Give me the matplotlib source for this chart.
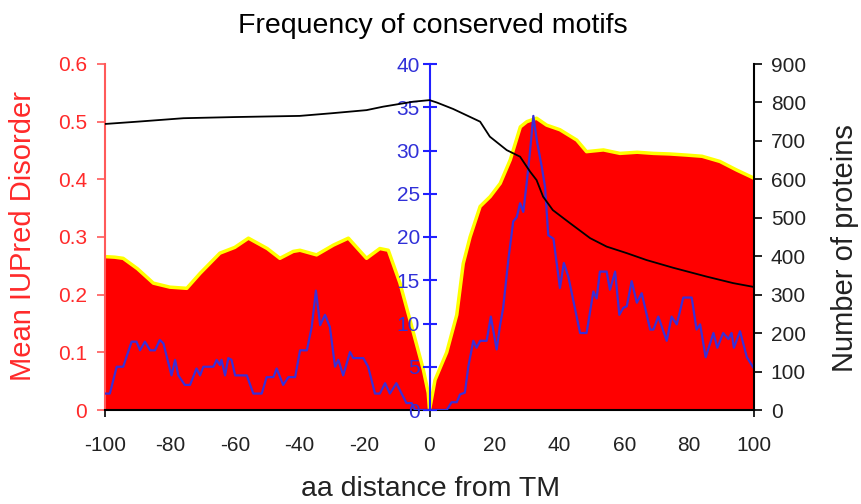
import matplotlib
matplotlib.use("Agg")
from matplotlib import pyplot as plt

plt.rcParams['font.family'] = ['Liberation Sans', 'DejaVu Sans']
plt.rcParams['axes.unicode_minus'] = False

# mean IUPred disorder (left axis)
dis_x = [-100, -97, -94.4, -90, -85.1, -80, -74.8, -70.7, -64.6, -60, -55.8, -50,
         -46.1, -42, -39.9, -34.8, -29.6, -25, -19.4, -15.3, -12.7, -9.1, -5, -1.9,
         -0.4, 0, 1.7, 5.3, 6.3, 8.4, 10.4, 12.5, 15.6, 18.7, 21.8, 24.9, 28, 30,
         33, 36.1, 40.2, 45.4, 48.4, 53.6, 58.7, 64, 69, 74, 79.3, 84, 89.5, 94.7, 100]
dis_y = [0.266, 0.265, 0.263, 0.245, 0.22, 0.213, 0.211, 0.237, 0.272, 0.282, 0.298, 0.28,
         0.263, 0.275, 0.277, 0.269, 0.286, 0.298, 0.263, 0.28, 0.277, 0.22, 0.135, 0.07,
         0.03, 0.0, 0.052, 0.1, 0.121, 0.165, 0.254, 0.30, 0.353, 0.37, 0.393, 0.434, 0.491, 0.50,
         0.506, 0.494, 0.486, 0.468, 0.448, 0.451, 0.445, 0.447, 0.445, 0.444, 0.442, 0.44, 0.431, 0.416, 0.402]

# frequency of conserved motifs (middle axis)
mot_x = [-100, -98.5, -96.4, -94.4, -91.8, -90.3, -89.2, -87.7, -86.1, -84.6, -83.1, -82,
         -79.5, -78.4, -77.4, -75.4, -73.8, -71.8, -70.7, -69.7, -66.6, -65.6, -64.6, -64.1,
         -63, -62, -61, -59.9, -56.3, -54.3, -51.7, -50.2, -48.1, -47.1, -45.1, -43.5, -41.4,
         -39.9, -37.8, -36.3, -35, -33.7, -32.2, -30.7, -29.1, -28.1, -26.6, -24.5, -23.5,
         -20.4, -18.9, -16.8, -15.3, -13.7, -12.2, -10.2, -8.6, -7.1, -5.5, -4.5, 0,
         5.3, 6.8, 8.4, 9.4, 10.9, 12, 13.5, 14.5, 15.6, 17.6, 18.9, 20.7, 21.7, 22.7,
         24.3, 25.8, 26.9, 27.9, 28.9, 30, 31, 32, 33.1, 34.6, 35.6, 36.6, 38.2, 40.2,
         41.4, 42.8, 46.4, 48.4, 50.5, 51.5, 52.5, 54.6, 55.6, 57.2, 58.5, 59.7, 60.8,
         62.3, 63.9, 65.4, 68, 69, 70.5, 73.1, 74.6, 76.2, 78.2, 80.8, 82.3, 83.4, 85.1,
         87.5, 88.7, 90.5, 92.1, 93.1, 93.8, 95.7, 97.8, 99.8, 100]
mot_y = [1.9, 1.9, 5, 5, 7.9, 7.9, 6.9, 7.9, 6.9, 6.9, 8.1, 7.7,
         4, 5.8, 4, 2.9, 2.9, 4.8, 4, 5, 5, 5.8, 5.2, 5.8,
         4, 6, 5.8, 4, 4, 1.9, 1.9, 3.8, 3.8, 4.8, 2.9, 3.8, 3.8,
         6.9, 6.9, 9.6, 13.8, 9.8, 11, 9.6, 5, 5.8, 4, 6.7, 6,
         6, 5, 1.9, 1.9, 3.1, 1.9, 3.1, 1.9, 0.8, 0.8, 0, 0,
         0, 0.9, 0.9, 1.8, 2, 5.1, 8, 7.2, 8, 8, 10.8, 7, 9.7, 11.8,
         17.4, 21.8, 22.3, 23.9, 22.9, 26.4, 30, 34, 31.1, 28.1, 25.8, 20.2, 19.8, 14.1,
         17, 15.4, 8.9, 8.9, 13.7, 12.9, 16, 16, 13.9, 16, 11, 11.8, 12,
         14.9, 12.4, 13.5, 9.3, 9.3, 10.8, 8, 10.8, 9.9, 13, 13, 9.3, 9.9, 6.1,
         8.9, 7.2, 8.9, 8.2, 8.9, 7.2, 9.1, 6.1, 4.9, 4.9]

# number of proteins (right axis)
num_x = [-100, -90, -75.8, -60, -40, -30, -19.4, -14.3, -5, 0, 2.2, 7.3, 15.6, 18.6,
         23.8, 27.9, 31, 33, 35, 38, 43.3, 49.5, 54.6, 60.8, 66.9, 75.1, 85.4, 93.6, 100]
num_y = [744, 750, 759, 762, 765, 772, 780, 789, 802, 806, 800, 783, 750, 711,
         676, 659, 620, 598, 555, 520, 486, 447, 425, 408, 390, 370, 347, 330, 320]

RED_AX = '#ff5a5a'
RED_TXT = '#ff2a2a'
BLUE = '#2020ff'
BLUE_TXT = '#3030d8'

fig = plt.figure(figsize=(8.61, 5.04), dpi=100)
ax = fig.add_axes([105 / 861, 94 / 504, 649 / 861, 346 / 504])

ax.fill_between(dis_x, dis_y, color='#ff0000', lw=0)
ax.plot(dis_x, dis_y, color='#ffff00', lw=2.5)
ax.set_xlim(-100, 100)
ax.set_ylim(0, 0.6)
ax.set_yticks([0, 0.1, 0.2, 0.3, 0.4, 0.5, 0.6])
ax.set_yticklabels(['0', '0.1', '0.2', '0.3', '0.4', '0.5', '0.6'])
ax.spines['top'].set_visible(False)
ax.spines['right'].set_visible(False)
ax.spines['left'].set_color(RED_AX)
ax.spines['left'].set_linewidth(1.5)
ax.spines['bottom'].set_linewidth(1.5)
ax.tick_params(axis='y', direction='out', length=6, width=1.2, color=RED_AX,
               labelcolor=RED_TXT, labelsize=15, pad=7)
ax.set_xticks(range(-100, 101, 20))
ax.xaxis.remove_overlapping_locs = False
ax.set_xticks([-100, 0, 100], minor=True)
ax.tick_params(axis='x', which='major', length=0, labelsize=15, pad=19,
               labelcolor='#222222')
ax.tick_params(axis='x', which='minor', length=5, width=1.2, direction='out')

# blue axis in the middle at x = 0
ax2 = ax.twinx()
ax2.plot(mot_x, mot_y, color='#3a2fd6', lw=1.6)
ax2.set_ylim(0, 40)
ax2.yaxis.tick_left()
for s in ('top', 'right', 'bottom'):
    ax2.spines[s].set_visible(False)
ax2.spines['left'].set_position(('data', 0))
ax2.spines['left'].set_color(BLUE)
ax2.spines['left'].set_linewidth(1.5)
ax2.tick_params(axis='y', direction='inout', length=10, width=1.5, color=BLUE,
                labelcolor=BLUE_TXT, labelsize=15, pad=2)

# right axis
ax3 = ax.twinx()
ax3.plot(num_x, num_y, color='black', lw=1.3)
ax3.set_ylim(0, 900)
ax3.set_yticks(range(0, 901, 100))
for s in ('top', 'left', 'bottom'):
    ax3.spines[s].set_visible(False)
ax3.spines['right'].set_linewidth(1.5)
ax3.tick_params(axis='y', direction='out', length=6, width=1.2, labelsize=15,
                labelcolor='#222222', pad=6)

fig.text(433 / 861, 1 - 33 / 504, 'Frequency of conserved motifs', fontsize=20.5,
         ha='center', va='baseline')
fig.text(431 / 861, 1 - 496 / 504, 'aa distance from TM', fontsize=20.5,
         ha='center', va='baseline', color='#222222')
fig.text(23 / 861, 1 - 236 / 504, 'Mean IUPred Disorder', fontsize=21,
         ha='center', va='center', rotation=90, color=RED_TXT)
fig.text(845 / 861, 1 - 248 / 504, 'Number of proteins', fontsize=21,
         ha='center', va='center', rotation=90, color='#222222')

fig.savefig('out.png', dpi=100)
